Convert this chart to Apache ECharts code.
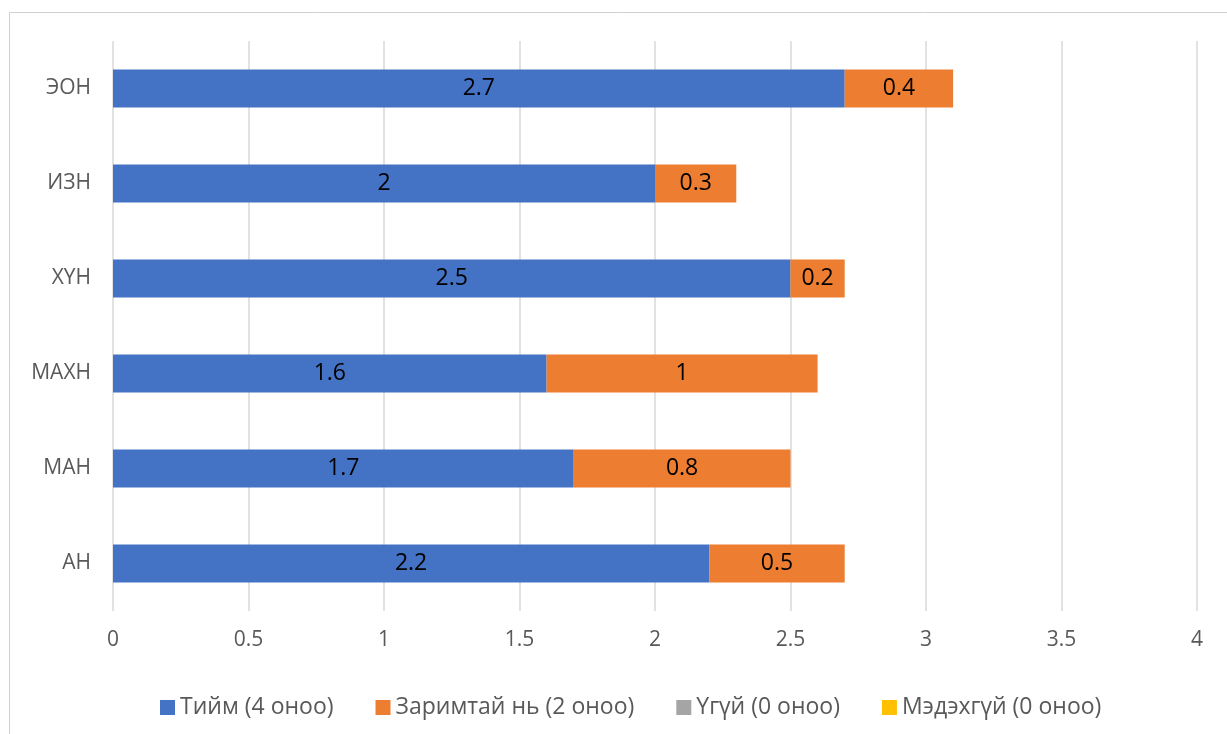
<!DOCTYPE html>
<html>
<head>
<meta charset="utf-8">
<script src="https://cdn.jsdelivr.net/npm/echarts@6/dist/echarts.min.js"></script>
<style>html,body{margin:0;padding:0;background:#fff;}#c{width:1227px;height:734px;}</style>
</head>
<body>
<div id="c"></div>
<script>
const categories = ['АН', 'МАН', 'МАХН', 'ХҮН', 'ИЗН', 'ЭОН'];
const seriesNames = ['Тийм (4 оноо)', 'Заримтай нь (2 оноо)', 'Үгүй (0 оноо)', 'Мэдэхгүй (0 оноо)'];
const yesValues = [2.2, 1.7, 1.6, 2.5, 2, 2.7];
const partlyValues = [0.5, 0.8, 1, 0.2, 0.3, 0.4];
const noValues = [0, 0, 0, 0, 0, 0];
const unknownValues = [0, 0, 0, 0, 0, 0];
const colors = ['#4472C4', '#ED7D31', '#A5A5A5', '#FFC000'];

const font = '"Open Sans", "Noto Sans", sans-serif';
const chart = echarts.init(document.getElementById('c'));
const dataSets = [yesValues, partlyValues, noValues, unknownValues];
const series = dataSets.map((d, i) => ({
  name: seriesNames[i],
  type: 'bar',
  stack: 'total',
  data: d,
  barWidth: 38,
  itemStyle: { color: colors[i] },
  label: {
    show: i < 2,
    position: 'inside',
    color: '#000',
    fontSize: 23,
    fontFamily: font,
    formatter: p => p.value === 0 ? '' : String(p.value)
  },
  emphasis: { disabled: true }
}));

chart.setOption({
  animation: false,
  color: colors,
  graphic: [{
    type: 'rect',
    shape: { x: 9.5, y: 12.5, width: 1230, height: 740 },
    style: { fill: 'none', stroke: '#d0d0d0', lineWidth: 1 },
    silent: true
  }],
  grid: { left: 113, right: 30, top: 41, bottom: 123, containLabel: false },
  xAxis: {
    type: 'value',
    min: 0, max: 4, interval: 0.5,
    axisLine: { show: false },
    axisTick: { show: false },
    splitLine: { lineStyle: { color: '#d9d9d9', width: 1.5 } },
    axisLabel: { color: '#595959', fontSize: 21, fontFamily: font, margin: 19 }
  },
  yAxis: {
    type: 'category',
    data: categories,
    axisLine: { show: false },
    axisTick: { show: false },
    axisLabel: { color: '#595959', fontSize: 21, fontFamily: font, margin: 22 }
  },
  legend: {
    bottom: 10,
    left: 155,
    itemWidth: 15,
    itemHeight: 15,
    itemGap: 42,
    icon: 'rect',
    textStyle: { color: '#595959', fontSize: 23, fontFamily: font },
    data: seriesNames
  },
  series: series
});
</script>
</body>
</html>
